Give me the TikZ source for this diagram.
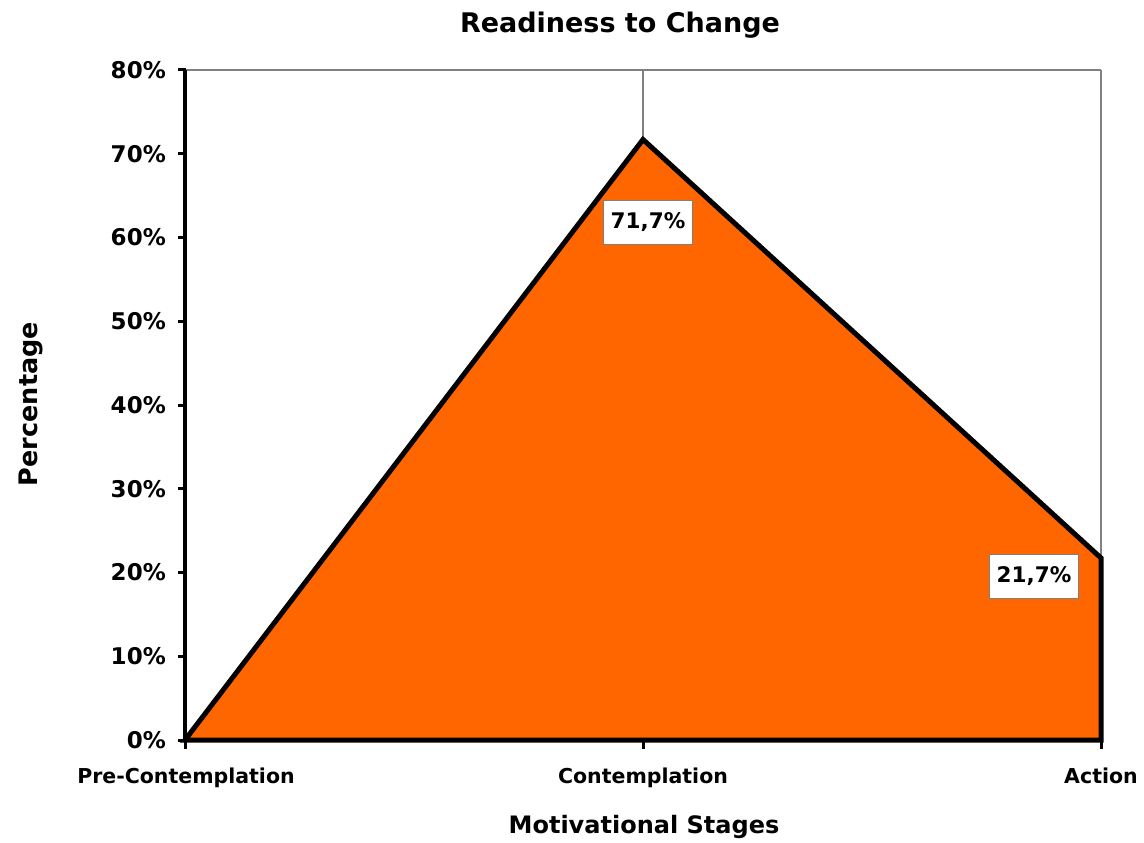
\documentclass[tikz,border=0pt]{standalone}
\usepackage{fontspec}
\setmainfont{DejaVu Sans}
\definecolor{areaorange}{HTML}{FF6600}
\definecolor{gridgray}{HTML}{808080}
\begin{document}
\begin{tikzpicture}[x=1pt,y=-1pt,
  ticklab/.style={font=\fontsize{23}{26}\selectfont\bfseries, anchor=east, inner sep=0pt},
  catlab/.style={font=\fontsize{20.5}{24}\selectfont\bfseries, anchor=north, inner sep=0pt},
  vallab/.style={font=\fontsize{21.5}{24}\selectfont\bfseries, fill=white, draw=gridgray, line width=0.8pt, inner sep=0pt, minimum width=89pt, minimum height=44pt},
  axis/.style={line width=4pt},
  grid/.style={draw=gridgray, line width=1.2pt}]
\useasboundingbox (0,0) rectangle (1144,843);
% corners
\coordinate (o) at (185,740);
\coordinate (tl) at (185,70);
\coordinate (tr) at (1101,70);
\coordinate (br) at (1101,740);
\coordinate (tc) at (643,70);
% data points
\coordinate (p0) at (185,740);
\coordinate (p1) at (643,139.5);
\coordinate (p2) at (1101,558);
% grid lines
\draw[grid] (tl) -- (tr);
\draw[grid] (tc) -- (p1);
\draw[grid] (tr) -- (p2);
% area
\fill[areaorange] (p0) -- (p1) -- (p2) -- (br) -- cycle;
% y axis & ticks
\draw[axis] (o) -- (tl);
\foreach \i in {0,...,8} {
  \pgfmathsetmacro{\yy}{740-83.75*\i}
  \draw[line width=3pt] (178,\yy) -- (186,\yy);
  \pgfmathtruncatemacro{\pc}{10*\i}
  \node[ticklab] (yl\i) at (166,\yy) {\pc\%};
}
% area outline
\draw[line width=5pt, line join=miter] (p0) -- (p1) -- (p2) -- (br) -- cycle;
% x ticks
\foreach \x in {185,643,1101} \draw[line width=3pt] (\x,740) -- (\x,749);
% category labels
\node[catlab] (c0) at (186,768) {Pre-Contemplation};
\node[catlab] (c1) at (643,768) {Contemplation};
\node[catlab] (c2) at (1101,768) {Action};
% value labels
\node[vallab] (v1) at (648,222) {71,7\%};
\node[vallab] (v2) at (1034,576) {21,7\%};
% titles
\node[font=\fontsize{27}{30}\selectfont\bfseries] (title) at (620,25) {Readiness to Change};
\node[font=\fontsize{24}{28}\selectfont\bfseries] (xt) at (644,827) {Motivational Stages};
\node[font=\fontsize{25.5}{28}\selectfont\bfseries, rotate=90] (yt) at (31,404) {Percentage};
\end{tikzpicture}
\end{document}
